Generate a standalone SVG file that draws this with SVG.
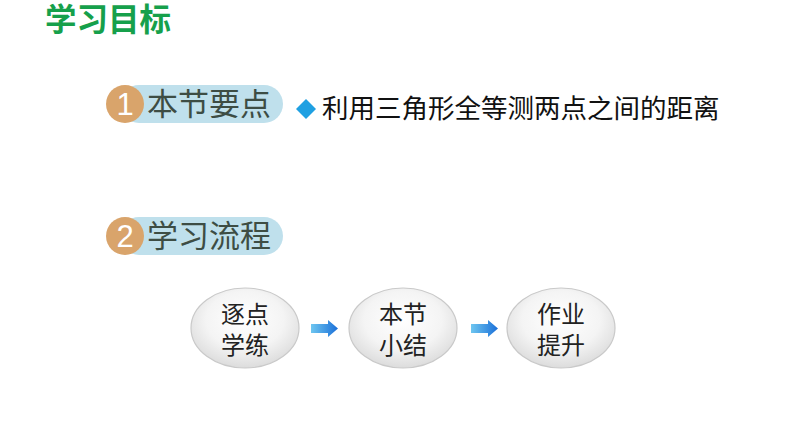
<svg xmlns="http://www.w3.org/2000/svg" width="794" height="447" viewBox="0 0 794 447">
<style>
.cjk{font-family:"Liberation Sans","Noto Sans CJK SC",sans-serif}
.title{font-size:31.5px;font-weight:bold;fill:#16a04b}
.head{font-size:31px;fill:#3d4d44}
.num{font-size:31px;fill:#ffffff}
.pill{fill:#bfe0ec}
.badge{fill:#d9a46b}
.node{fill:url(#eg);stroke:#c9c9c9;stroke-width:1.2}
.nt{font-size:24px;fill:#222}
.arrow{fill:url(#ag)}
</style>
<defs>
<radialGradient id="eg" cx="0.5" cy="0.4" r="0.6">
<stop offset="0" stop-color="#ffffff"/>
<stop offset="0.6" stop-color="#f4f4f4"/>
<stop offset="1" stop-color="#dcdcdc"/>
</radialGradient>
<linearGradient id="ag" x1="0" y1="0" x2="1" y2="0">
<stop offset="0" stop-color="#6ec6f0"/>
<stop offset="1" stop-color="#1a6fd8"/>
</linearGradient>
</defs>
<rect width="794" height="447" fill="#ffffff"/>
<text class="cjk title" x="45" y="31">学习目标</text>
<g id="section1">
<rect class="pill" x="120" y="85" width="163" height="38" rx="19"/>
<circle class="badge" cx="125" cy="104" r="19"/>
<text class="cjk num" x="125" y="115" text-anchor="middle">1</text>
<text class="cjk head" x="147" y="115">本节要点</text>
</g>
<g id="goal">
<polygon points="306,99 316,109 306,119 296,109" fill="#1fa0e2"/>
<text class="cjk" x="322" y="118" font-size="26.5" fill="#111">利用三角形全等测两点之间的距离</text>
</g>
<g id="section2">
<rect class="pill" x="120" y="217" width="163" height="38" rx="19"/>
<circle class="badge" cx="125" cy="236" r="19"/>
<text class="cjk num" x="125" y="247" text-anchor="middle">2</text>
<text class="cjk head" x="147" y="247">学习流程</text>
</g>
<g id="node1">
<ellipse class="node" cx="245" cy="328" rx="54" ry="40"/>
<text class="cjk nt" x="245" y="323" text-anchor="middle">逐点</text>
<text class="cjk nt" x="245" y="354" text-anchor="middle">学练</text>
</g>
<g id="node2">
<ellipse class="node" cx="403" cy="328" rx="54" ry="40"/>
<text class="cjk nt" x="403" y="323" text-anchor="middle">本节</text>
<text class="cjk nt" x="403" y="354" text-anchor="middle">小结</text>
</g>
<g id="node3">
<ellipse class="node" cx="561" cy="328" rx="54" ry="40"/>
<text class="cjk nt" x="561" y="323" text-anchor="middle">作业</text>
<text class="cjk nt" x="561" y="354" text-anchor="middle">提升</text>
</g>
<g id="connectors">
<polygon class="arrow" points="311,324 328,324 328,320 338,328.5 328,337 328,333 311,333"/>
<polygon class="arrow" points="471,324 488,324 488,320 498,328.5 488,337 488,333 471,333"/>
</g>
</svg>
